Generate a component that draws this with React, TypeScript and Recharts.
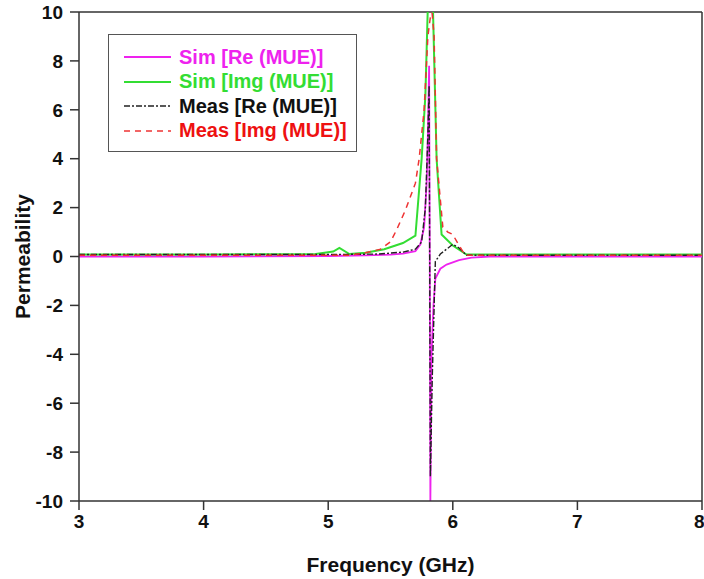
import React from 'react'
import {
  LineChart,
  Line,
  XAxis,
  YAxis,
  ReferenceLine,
} from 'recharts'

// frequency (GHz) / permeability readings per series
const simReFreq = [3, 4, 5, 5.3, 5.5, 5.6, 5.7, 5.74, 5.77, 5.79, 5.8, 5.81, 5.815, 5.82, 5.83, 5.845, 5.86, 5.9, 5.95, 6.05, 6.15, 6.3, 7, 8]
const simReVals = [0, 0, 0.02, 0.05, 0.08, 0.12, 0.22, 0.5, 1.2, 3, 5, 7.8, 0, -10, -4, -2, -0.9, -0.5, -0.33, -0.15, -0.05, 0, 0, 0]

const simImgFreq = [3, 4, 4.9, 5.04, 5.09, 5.17, 5.3, 5.45, 5.6, 5.7, 5.75, 5.78, 5.8, 5.82, 5.84, 5.87, 5.91, 6.0, 6.11, 7, 8]
const simImgVals = [0.08, 0.08, 0.1, 0.2, 0.35, 0.1, 0.15, 0.3, 0.55, 0.85, 4.0, 6.6, 10.3, 10.5, 10.3, 4.0, 0.9, 0.45, 0.08, 0.08, 0.08]

const measReFreq = [3, 4, 5, 5.4, 5.6, 5.7, 5.75, 5.78, 5.8, 5.81, 5.82, 5.835, 5.855, 5.86, 5.9, 6.0, 6.05, 6.11, 7, 8]
const measReVals = [0.08, 0.08, 0.08, 0.1, 0.18, 0.3, 0.6, 2, 5, 7, -9, -5, -1.1, -0.2, 0.1, 0.5, 0.35, 0.05, 0.05, 0.05]

const measImgFreq = [3, 4, 5, 5.17, 5.3, 5.42, 5.5, 5.55, 5.62, 5.7, 5.73, 5.77, 5.8, 5.83, 5.85, 5.87, 5.92, 5.96, 6.0, 6.05, 6.1, 7, 8]
const measImgVals = [0.05, 0.05, 0.05, 0.05, 0.15, 0.3, 0.6, 1.1, 1.9, 3.0, 4.0, 6.0, 9.0, 10.2, 9.0, 4.0, 1.2, 1.0, 0.9, 0.45, 0.05, 0.05, 0.05]

const xTicks = [3, 4, 5, 6, 7, 8]
const yTicks = [-10, -8, -6, -4, -2, 0, 2, 4, 6, 8, 10]

const toPoints = (freq: number[], vals: number[]) => freq.map((f, i) => ({ f, v: vals[i] }))

const series = [
  { name: 'Sim [Re (MUE)]', color: '#ee22ee', text: '#ee22ee', dash: undefined, width: 1.8, data: toPoints(simReFreq, simReVals) },
  { name: 'Sim [Img (MUE)]', color: '#33dd33', text: '#33dd33', dash: undefined, width: 2, data: toPoints(simImgFreq, simImgVals) },
  { name: 'Meas [Re (MUE)]', color: '#222222', text: '#111111', dash: '6 2 2 2', width: 1.4, data: toPoints(measReFreq, measReVals) },
  { name: 'Meas [Img (MUE)]', color: '#ee3333', text: '#ee1111', dash: '6 5', width: 1.5, data: toPoints(measImgFreq, measImgVals) },
]

const FONT = '"Liberation Sans", Arial, sans-serif'

// legend drawn as an overlay so it doesn't push the plot area around
const LegendBox = () => (
  <div
    style={{
      position: 'absolute',
      left: 108,
      top: 34,
      width: 249,
      height: 118,
      boxSizing: 'border-box',
      border: '1.5px solid #555',
      background: '#fff',
      paddingTop: 10,
      fontFamily: FONT,
      fontWeight: 'bold',
      fontSize: 20,
    }}
  >
    {series.map(s => (
      <div key={s.name} style={{ display: 'flex', alignItems: 'center', height: 24.5 }}>
        <svg width={70} height={10} style={{ flex: 'none' }}>
          <line x1={15} x2={62} y1={5} y2={5} stroke={s.color} strokeWidth={s.width} strokeDasharray={s.dash} />
        </svg>
        <span style={{ color: s.text, whiteSpace: 'nowrap' }}>{s.name}</span>
      </div>
    ))}
  </div>
)

export default function App() {
  const tickStyle = { fill: '#111', fontSize: 19, fontWeight: 'bold', fontFamily: FONT }
  return (
    <div style={{ position: 'absolute', left: 0, top: 0, width: 704, height: 579, background: '#fff' }}>
      <LineChart width={704} height={579} margin={{ top: 12, right: 2, bottom: 0, left: 0 }}>
        <XAxis
          type="number"
          dataKey="f"
          domain={[3, 8]}
          ticks={xTicks}
          allowDataOverflow
          height={78}
          tickSize={9}
          tickMargin={5}
          stroke="#333"
          strokeWidth={1.5}
          tick={tickStyle}
          label={{
            value: 'Frequency (GHz)',
            position: 'insideBottom',
            offset: 7,
            style: { fill: '#111', fontSize: 21, fontWeight: 'bold', fontFamily: FONT },
          }}
        />
        <YAxis
          type="number"
          domain={[-10, 10]}
          ticks={yTicks}
          allowDataOverflow
          width={79}
          tickSize={9}
          tickMargin={7}
          stroke="#333"
          strokeWidth={1.5}
          tick={tickStyle}
          label={{
            value: 'Permeability',
            angle: -90,
            position: 'insideLeft',
            offset: 23,
            style: { textAnchor: 'middle', fill: '#111', fontSize: 21, fontWeight: 'bold', fontFamily: FONT },
          }}
        />
        {/* top and right frame */}
        <ReferenceLine y={10} stroke="#333" strokeWidth={1.5} />
        <ReferenceLine x={8} stroke="#333" strokeWidth={1.5} />
        {series.map(s => (
          <Line
            key={s.name}
            data={s.data}
            dataKey="v"
            name={s.name}
            type="linear"
            stroke={s.color}
            strokeWidth={s.width}
            strokeDasharray={s.dash}
            dot={false}
            isAnimationActive={false}
          />
        ))}
      </LineChart>
      <LegendBox />
    </div>
  )
}
